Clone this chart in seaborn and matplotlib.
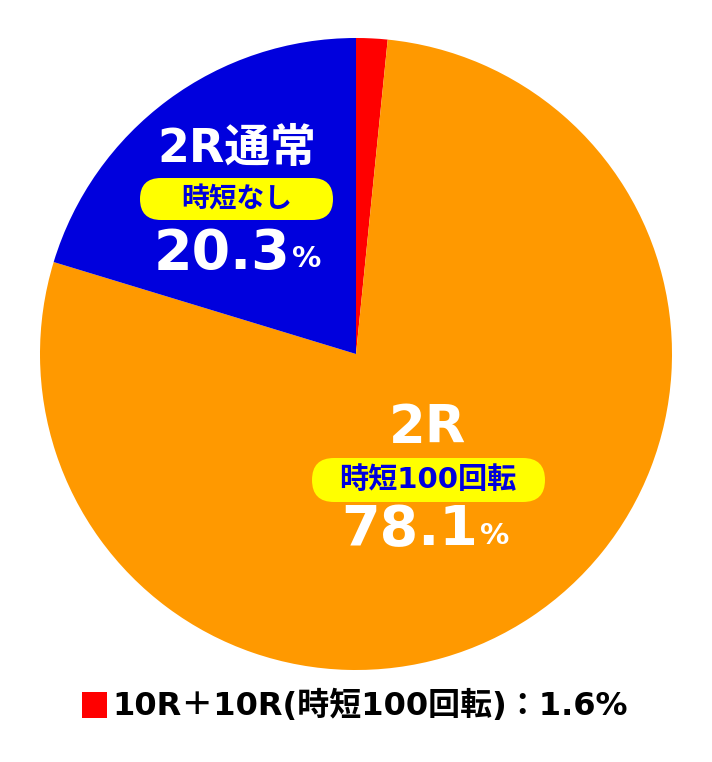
import matplotlib
matplotlib.use("Agg")
import matplotlib.pyplot as plt
from matplotlib.patches import FancyBboxPatch, Rectangle
import seaborn as sns

sns.set_theme(style="white")
FAM = ['DejaVu Sans', 'Noto Sans CJK JP']
plt.rcParams['font.family'] = FAM

# data
categories = ["10R+10R(時短100回転)", "2R 時短100回転", "2R通常 時短なし"]
values = [1.6, 78.1, 20.3]
colors = ["#FF0000", "#FF9900", "#0000DD"]
legend_text = "10R＋10R(時短100回転)：1.6%"

W, H = 712, 762
fig = plt.figure(figsize=(W / 100, H / 100), dpi=100)
cx, cy, r = 356, 354, 316
ax = fig.add_axes([(cx - r) / W, (H - (cy + r)) / H, 2 * r / W, 2 * r / H])
ax.pie(values, colors=colors, startangle=90, counterclock=False,
       wedgeprops=dict(linewidth=0), radius=1.0)
ax.set_xlim(-1, 1)
ax.set_ylim(-1, 1)
ax.set_aspect('equal')
ax.axis('off')


def dx(px):
    return (px - cx) / r


def dy(py):
    return (cy - py) / r


def pill(x0, x1, y0, y1):
    h = dy(y0) - dy(y1)
    p = FancyBboxPatch((dx(x0), dy(y1)), dx(x1) - dx(x0), h,
                       boxstyle=f"round,pad=0,rounding_size={h/2}",
                       fc="#FFFF00", ec="none", zorder=3)
    ax.add_patch(p)


bold = dict(fontweight='bold', zorder=5, family=FAM)

# blue slice labels
ax.text(dx(237), dy(149), "2R通常", color='white', fontsize=33, ha='center', va='center', **bold)
pill(140, 333, 178, 220)
ax.text(dx(237), dy(199), "時短なし", color='#0000DD', fontsize=20, ha='center', va='center', **bold)
ax.text(dx(290), dy(254), f"{values[2]:.1f}", color='white', fontsize=40, ha='right', va='center', **bold)
ax.text(dx(292), dy(259), "%", color='white', fontsize=21, ha='left', va='center', **bold)

# orange slice labels
ax.text(dx(428), dy(428), "2R", color='white', fontsize=38, ha='center', va='center', **bold)
pill(312, 545, 458, 502)
ax.text(dx(428), dy(480), "時短100回転", color='#0000DD', fontsize=21, ha='center', va='center', **bold)
ax.text(dx(478), dy(530), f"{values[1]:.1f}", color='white', fontsize=40, ha='right', va='center', **bold)
ax.text(dx(480), dy(536), "%", color='white', fontsize=21, ha='left', va='center', **bold)

# bottom legend
fig.patches.append(Rectangle((82 / W, (H - 718) / H), 25 / W, 26 / H,
                             transform=fig.transFigure, fc=colors[0], ec='none'))
fig.text(112 / W, (H - 706) / H, legend_text, color='black', fontsize=23,
         ha='left', va='center', fontweight='bold', family=FAM)

fig.savefig("out.png", dpi=100, facecolor='white')
